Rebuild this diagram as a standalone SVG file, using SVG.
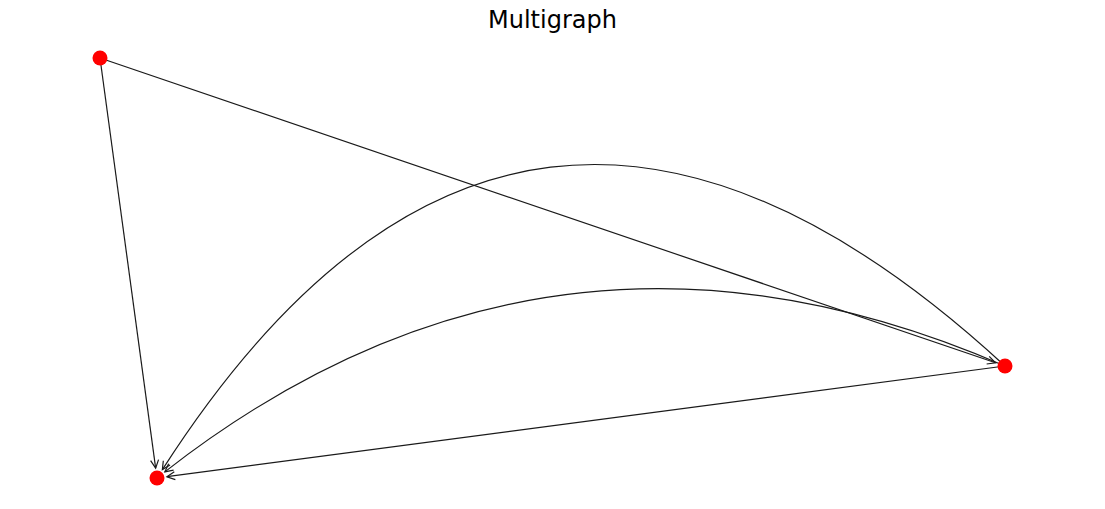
<svg xmlns="http://www.w3.org/2000/svg" width="1105" height="509" viewBox="0 0 1105 509">
<style>
.edge{fill:none;stroke:#1a1a1a;stroke-width:1.2;marker-end:url(#arr)}
.node{fill:#ff0000;stroke:none}
.title{font-family:"DejaVu Sans",sans-serif;font-size:24px;fill:#000}
</style>
<defs>
<marker id="arr" markerUnits="userSpaceOnUse" markerWidth="20" markerHeight="20" viewBox="-10 -10 20 20" refX="0" refY="0" orient="auto" overflow="visible">
<path d="M-8,-4 L0,0 L-8,4" fill="none" stroke="#1a1a1a" stroke-width="1.2"/>
</marker>
</defs>
<rect width="1105" height="509" fill="#fff"/>
<text class="title" x="552.5" y="28" text-anchor="middle">Multigraph</text>
<g id="edges">
<path class="edge" d="M100,58 L155.65,468.1"/>
<path class="edge" d="M100,58 L995.5,362.8"/>
<path class="edge" d="M1005,366 L166.9,476.7"/>
<path class="edge" d="M1005,366 Q552.0,169.7 164.81,471.85"/>
<path class="edge" d="M1005,366 Q517.5,-83.4 162.36,469.59"/>
</g>
<g id="node-0"><circle class="node" cx="100" cy="58" r="7.5"/></g>
<g id="node-1"><circle class="node" cx="157" cy="478" r="7.5"/></g>
<g id="node-2"><circle class="node" cx="1005" cy="366" r="7.5"/></g>
</svg>
